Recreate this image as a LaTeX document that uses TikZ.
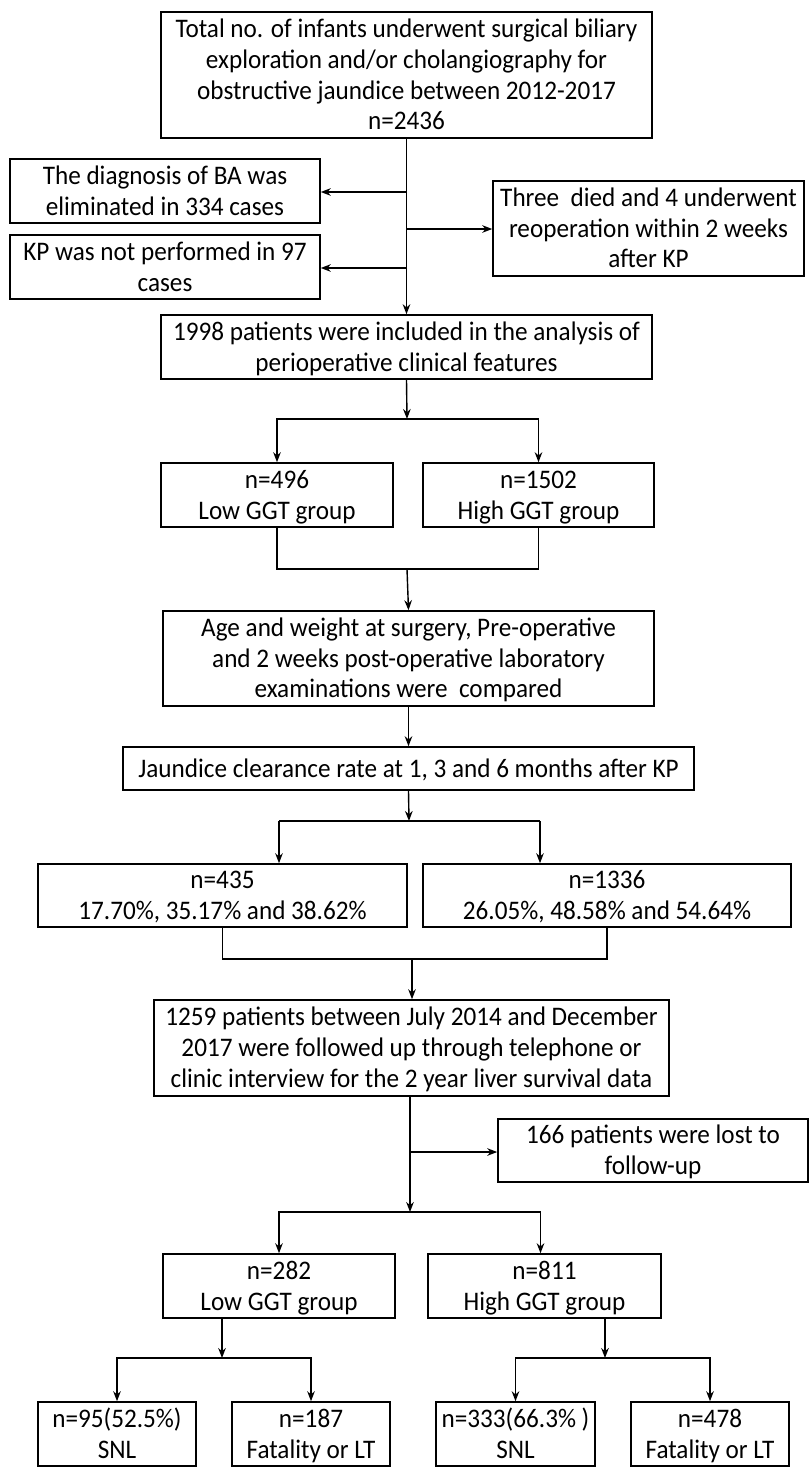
\documentclass[tikz,border=0pt]{standalone}
\usepackage{fontspec}
\setmainfont{Carlito}[FakeStretch=0.94]
\usetikzlibrary{arrows.meta}
\newcommand\bs{\rule[-3.4pt]{0pt}{15.4pt}}

\begin{document}
\begin{tikzpicture}[x=0.5pt,y=-0.5pt,>={Stealth[length=5pt,width=3.8pt]},
  box/.style={draw,line width=0.8pt,align=center,inner sep=0pt,
    font=\fontsize{13.4}{15.4}\selectfont},
  link/.style={line width=0.7pt}]
\useasboundingbox (0,0) rectangle (810,1473);
% boxes
\node[box,minimum width=245.5pt,minimum height=63pt](total) at (406.5,75)
  {\bs Total no. of infants underwent surgical biliary\\exploration and/or cholangiography for\\obstructive jaundice between 2012-2017\\n=2436\bs};
\node[box,minimum width=155pt,minimum height=32pt](elim) at (165,191)
  {\bs The diagnosis of BA was\\eliminated in 334 cases\bs};
\node[box,minimum width=155pt,minimum height=32pt](nokp) at (165,267)
  {\bs KP was not performed in 97\\cases\bs};
\node[box,minimum width=155.5pt,minimum height=47.5pt](died) at (648.5,228.5)
  {\bs Three~ died and 4 underwent\\reoperation within 2 weeks\\after KP\bs};
\node[box,minimum width=245.5pt,minimum height=32pt](incl) at (406.5,347)
  {\bs 1998 patients were included in the analysis of\\perioperative clinical features\bs};
\node[box,minimum width=116pt,minimum height=32pt](lowa) at (277,495)
  {\bs n=496\\Low GGT group\bs};
\node[box,minimum width=115.5pt,minimum height=32pt](higha) at (538.5,495)
  {\bs n=1502\\High GGT group\bs};
\node[box,minimum width=245.5pt,minimum height=47.5pt](age) at (408.5,658.5)
  {\bs Age and weight at surgery, Pre-operative\\and 2 weeks post-operative laboratory\\examinations were~ compared\bs};
\node[box,minimum width=285.5pt,minimum height=21.5pt](jaund) at (408.5,768.5)
  {\bs Jaundice clearance rate at 1, 3 and 6 months after KP};
\node[box,minimum width=184.5pt,minimum height=31.5pt](rlow) at (222.5,895.5)
  {\bs n=435\\17.70\%, 35.17\% and 38.62\%\bs};
\node[box,minimum width=184pt,minimum height=31.5pt](rhigh) at (607,895.5)
  {\bs n=1336\\26.05\%, 48.58\% and 54.64\%\bs};
\node[box,minimum width=257.5pt,minimum height=48pt](follow) at (411.5,1048)
  {\bs 1259 patients between July 2014 and December\\2017 were followed up through telephone or\\clinic interview for the 2 year liver survival data\bs};
\node[box,minimum width=155pt,minimum height=31.5pt](lost) at (653,1150.5)
  {\bs 166 patients were lost to\\follow-up\bs};
\node[box,minimum width=116pt,minimum height=32pt](lowb) at (279,1286)
  {\bs n=282\\Low GGT group\bs};
\node[box,minimum width=116.5pt,minimum height=32pt](highb) at (544.5,1286)
  {\bs n=811\\High GGT group\bs};
\node[box,minimum width=79pt,minimum height=32pt](snla) at (117,1434)
  {\bs n=95(52.5\%)\\SNL\bs};
\node[box,minimum width=79pt,minimum height=32pt](fata) at (311,1434)
  {\bs n=187\\Fatality or LT\bs};
\node[box,minimum width=79.5pt,minimum height=32pt](snlb) at (515.5,1434)
  {\bs n=333(66.3\% )\\SNL\bs};
\node[box,minimum width=79pt,minimum height=32pt](fatb) at (710,1434)
  {\bs n=478\\Fatality or LT\bs};
% turn points
\coordinate (ta) at (407,192);
\coordinate (tb) at (407,229);
\coordinate (tc) at (407,268);
\coordinate (sa) at (407,419);
\coordinate (ma) at (407,569);
\coordinate (sb) at (409,821);
\coordinate (sbl) at (279,821);
\coordinate (sbr) at (540,821);
\coordinate (mb) at (412,959);
\coordinate (td) at (410,1152);
\coordinate (sc) at (410,1212);
\coordinate (sd) at (222,1358);
\coordinate (se) at (605,1358);
% connectors
\draw[link,->] (total.south) -- (incl.north);
\draw[link,->] (ta) -- (ta -| elim.east);
\draw[link,->] (tc) -- (tc -| nokp.east);
\draw[link,->] (tb) -- (tb -| died.west);
\draw[link,->] (incl.south) -- (sa);
\draw[link,->] (sa) -| (lowa.north);
\draw[link,->] (sa) -| (higha.north);
\draw[link] (lowa.south) |- (ma) -| (higha.south);
\draw[link,->] (ma) -- (age.north);
\draw[link,->] (age.south) -- (age.south |- jaund.north);
\draw[link,->] (jaund.south) -- (sb);
\draw[link] (sbl) -- (sbr);
\draw[link,->] (sbl) -- (sbl |- rlow.north);
\draw[link,->] (sbr) -- (sbr |- rhigh.north);
\draw[link] (rlow.south) |- (mb) -| (rhigh.south);
\draw[link,->] (mb) -- (mb |- follow.north);
\draw[link,->] (follow.south -| sc) -- (sc);
\draw[link,->] (td) -- (td -| lost.west);
\draw[link,->] (sc) -| (lowb.north);
\draw[link,->] (sc) -| ([xshift=-2pt]highb.north);
\draw[link,->] (sd |- lowb.south) -- (sd);
\draw[link,->] (sd) -| (snla.north);
\draw[link,->] (sd) -| (fata.north);
\draw[link,->] (se |- highb.south) -- (se);
\draw[link,->] (se) -| (snlb.north);
\draw[link,->] (se) -| (fatb.north);
\end{tikzpicture}
\end{document}
